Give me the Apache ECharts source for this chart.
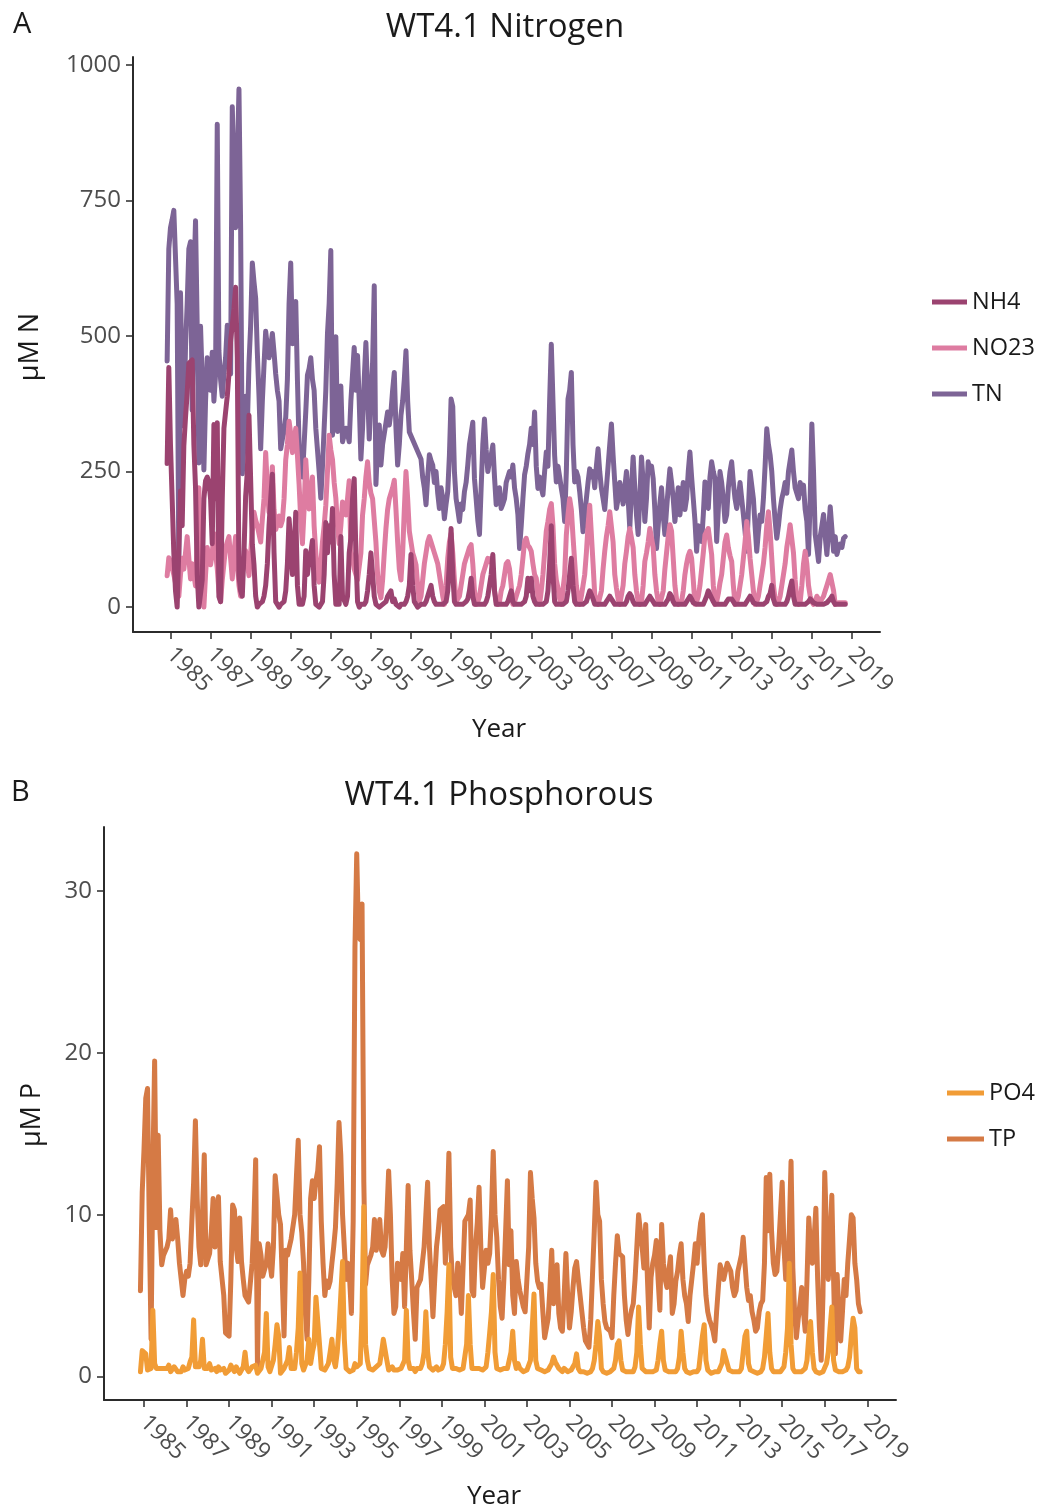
<!DOCTYPE html>
<html><head><meta charset="utf-8">
<script src="https://cdn.jsdelivr.net/npm/echarts@6/dist/echarts.min.js"></script>
<style>html,body{margin:0;padding:0;background:#fff}#c{width:1039px;height:1512px}</style>
</head><body><div id="c"></div>
<script>
// monthly series, first value = Nov 1984
const startYear = 1984, startMonth = 10;
const yearTicks = [1985,1987,1989,1991,1993,1995,1997,1999,2001,2003,2005,2007,2009,2011,2013,2015,2017,2019];
const nTicks = [0,250,500,750,1000];
const pTicks = [0,10,20,30];

const nh4 = [
265,442,
300,200,100,30,0,0,214,150,298,350,395,450,
453,456,300,220,60,0,0,50,200,233,240,231,
200,117,337,200,340,19,10,200,330,360,389,430,
492,520,550,590,460,58,30,20,100,204,250,354,
356,116,78,20,0,5,5,10,20,40,80,150,
200,245,100,10,5,0,5,5,10,30,80,163,
120,60,100,175,40,5,5,5,20,104,60,88,
100,123,40,5,5,0,5,10,60,156,100,150,
120,182,60,5,5,5,130,20,17,5,20,100,
127,200,237,100,10,0,5,5,5,10,30,60,
100,60,20,5,5,0,0,5,5,10,20,20,
30,10,15,5,5,0,5,5,5,10,20,40,
97,40,10,5,0,0,5,5,5,10,10,30,
40,20,10,5,5,5,5,5,5,10,30,80,
145,60,10,5,5,5,5,5,5,10,15,30,
53,20,5,5,5,5,5,5,5,10,20,40,
60,97,30,5,5,5,5,5,5,5,10,20,
30,10,5,5,5,5,5,5,10,20,53,30,
53,20,10,5,5,5,5,5,5,10,30,80,
150,60,10,5,5,5,5,5,5,10,30,60,
90,40,10,5,5,5,5,5,5,10,20,30,
23,15,5,5,5,5,5,5,5,10,15,20,
20,10,5,5,5,5,5,5,5,10,20,25,
20,10,5,5,5,5,5,5,5,8,15,20,
18,10,5,5,5,5,5,5,5,8,15,25,
20,10,5,5,5,5,5,5,5,8,15,20,
15,8,5,5,5,5,5,5,8,20,30,23,
20,10,5,5,5,5,5,5,5,10,15,15,
15,10,5,5,5,5,5,5,5,8,15,20,
15,8,5,5,5,5,5,5,5,10,20,25,
40,15,5,5,5,5,5,5,5,10,20,35,
48,20,5,5,5,5,5,5,5,8,10,15,
15,8,5,5,5,5,5,5,5,8,10,15,
20,10,5,5,5,5,5,5,5
];

const no23 = [
58,91,
85,84,60,45,39,20,60,90,70,100,130,90,
52,80,60,39,120,220,71,30,0,60,110,90,
78,100,136,100,71,30,10,50,80,110,120,130,
90,52,100,130,80,40,20,60,90,104,80,58,
100,140,175,160,150,149,120,162,200,285,220,175,
200,259,180,143,155,168,150,160,200,272,300,343,
320,285,300,330,280,227,160,117,180,272,220,181,
210,240,150,100,60,46,80,120,150,188,250,317,
290,272,230,201,150,117,150,194,188,170,200,233,
103,90,70,60,50,48,100,170,200,240,268,230,
210,200,200,120,60,30,17,50,100,145,180,200,
210,220,234,180,120,70,50,100,180,250,200,140,
120,100,90,78,40,11,20,50,80,100,120,130,
120,110,100,90,80,78,40,20,5,40,90,120,
136,100,50,10,10,20,40,60,80,90,100,110,
115,80,30,5,10,20,40,60,70,80,90,84,
90,70,30,10,5,10,30,40,60,80,84,70,
40,5,10,20,30,40,60,90,121,127,114,110,
103,80,60,53,20,5,30,60,100,140,158,180,
191,150,80,50,35,15,5,5,60,133,170,200,
180,130,84,40,15,5,20,40,60,100,150,188,
188,80,23,10,5,5,30,70,103,130,150,176,
176,120,60,35,15,5,5,40,80,103,130,145,
145,110,60,30,10,5,10,40,84,100,120,145,
145,110,60,30,10,5,5,30,70,100,130,152,
140,90,40,15,5,5,10,30,60,80,95,103,
90,50,5,10,20,40,70,100,133,133,145,120,
97,40,5,10,25,45,60,90,120,133,110,95,
84,40,5,10,20,40,60,90,120,158,130,90,
60,30,5,10,20,40,60,80,110,150,176,140,
90,40,15,5,10,20,40,60,80,110,130,152,
152,100,50,15,5,10,40,80,103,80,40,20,
10,5,10,20,15,10,15,20,30,40,50,60,
60,30,5,5,8,5,8,10,8
];

const tn = [
454,661,
700,715,732,730,560,71,580,420,334,480,560,661,
674,363,600,713,518,266,518,420,253,380,460,440,
400,470,380,430,891,473,420,389,430,460,520,460,
430,923,800,700,820,956,700,246,300,389,330,450,
520,635,600,570,470,389,292,380,447,509,480,460,
480,505,470,430,400,380,292,310,324,350,420,560,
635,486,520,564,420,298,260,240,300,360,428,440,
460,420,400,330,290,250,201,260,330,400,505,560,
658,317,400,499,324,360,408,305,305,330,320,305,
380,430,479,400,464,380,273,330,420,488,400,310,
380,450,593,226,300,336,262,300,320,340,360,336,
360,400,433,330,262,300,354,380,420,473,380,323,
null,null,null,null,null,null,273,240,220,189,240,281,
270,262,230,250,210,182,220,200,163,190,213,280,
384,370,250,200,180,158,190,180,213,230,262,300,
320,341,237,200,160,134,220,300,347,290,250,270,
280,299,240,189,200,220,182,190,200,230,240,250,
240,262,220,200,171,108,150,200,244,260,283,300,
330,300,360,260,219,240,220,207,250,286,260,380,
485,380,280,231,260,240,219,200,158,250,384,400,
433,300,231,250,240,213,180,139,170,200,230,255,
240,250,220,260,292,250,219,200,180,220,260,300,
338,280,230,182,200,230,213,190,220,250,200,145,
220,277,220,170,134,200,277,230,158,200,268,250,
260,237,180,108,150,190,220,170,134,180,220,255,
230,200,158,190,220,170,200,230,180,200,250,286,
240,200,160,103,150,140,121,170,231,200,182,240,
268,250,237,121,180,250,230,200,158,170,220,250,
268,230,200,182,200,230,200,171,140,103,180,250,
225,200,150,103,140,170,158,200,260,329,300,281,
250,200,160,127,150,180,200,213,230,210,250,270,
290,250,220,210,200,230,210,225,180,158,97,200,
338,250,134,110,84,130,150,171,130,97,140,185,
185,103,130,97,110,116,110,127,130
];

const po4 = [
0.3,1.6,
1.5,1.4,0.4,0.3,0.5,4.1,0.8,0.5,0.6,0.5,0.4,0.5,
0.4,0.5,0.7,0.3,0.4,0.6,0.5,0.3,0.4,0.3,0.6,0.4,
0.3,0.5,0.9,1.2,3.5,0.6,0.5,0.6,1.0,2.3,0.5,0.4,
0.5,0.8,0.4,0.3,0.5,0.3,0.6,0.4,0.3,0.5,0.2,0.3,
0.4,0.7,0.5,0.3,0.6,0.4,0.2,0.3,0.6,1.5,0.5,0.3,
0.4,0.6,0.5,0.7,0.2,0.3,0.5,1.0,1.5,3.9,0.6,0.3,
0.4,1.0,2.0,3.2,2.5,0.2,0.3,0.5,0.4,1.0,1.8,0.5,
0.6,0.5,1.5,3.0,6.4,0.8,0.4,0.5,1.0,2.3,0.8,1.5,
2.0,4.9,4.8,2.0,0.5,0.6,0.4,0.5,0.8,1.5,2.3,1.0,
0.6,1.5,3.0,5.0,7.1,2.3,0.5,0.4,0.3,0.2,0.4,0.8,
0.6,0.7,0.8,4.0,10.5,2.0,1.0,0.5,0.6,0.4,0.5,0.6,
0.5,0.8,1.5,2.3,2.4,1.0,0.4,0.5,0.6,0.4,0.5,0.4,
0.4,0.5,0.6,1.0,4.1,1.0,0.5,0.4,0.5,0.3,0.5,0.4,
0.5,0.8,1.5,4.0,1.5,0.6,0.5,0.4,0.5,0.6,0.4,0.5,
0.5,0.8,2.0,4.0,6.9,1.2,0.5,0.4,0.5,0.4,0.4,0.5,
0.5,0.6,2.0,5.0,2.0,0.5,0.4,0.5,0.4,0.5,0.6,0.4,
0.5,0.6,1.5,2.7,4.0,6.3,1.5,0.5,0.4,0.4,0.3,0.5,
0.4,0.5,1.0,1.5,2.8,1.0,0.5,0.8,0.5,0.4,0.3,0.4,
0.4,0.5,1.0,3.0,5.1,1.0,0.5,0.6,0.4,0.3,0.3,0.4,
0.4,0.6,0.8,1.2,0.9,1.0,0.5,0.4,0.3,0.5,0.4,0.3,
0.3,0.4,0.6,0.8,1.4,0.5,0.3,0.4,0.3,0.3,0.2,0.3,
0.3,0.5,1.0,2.0,3.4,2.5,0.5,0.3,0.3,0.2,0.2,0.3,
0.3,0.5,1.0,2.0,2.2,1.0,0.4,0.3,0.3,0.2,0.3,0.3,
0.3,0.6,1.5,4.3,2.0,0.5,0.4,0.3,0.3,0.3,0.2,0.3,
0.3,0.4,1.0,2.0,2.8,1.0,0.4,0.3,0.3,0.2,0.3,0.3,
0.3,0.5,1.2,2.8,1.5,0.5,0.3,0.3,0.2,0.3,0.3,0.3,
0.3,0.5,1.5,2.5,3.2,1.0,0.4,0.3,0.2,0.3,0.3,0.2,
0.3,0.4,0.8,1.6,1.2,0.8,0.4,0.3,0.3,0.2,0.3,0.3,
0.3,0.5,1.5,2.5,2.8,0.8,0.4,0.3,0.3,0.3,0.2,0.3,
0.3,0.5,1.2,2.5,3.9,1.5,0.5,0.3,0.3,0.3,0.3,0.3,
0.4,0.6,1.5,3.0,7.0,2.0,0.5,0.3,0.3,0.3,0.3,0.3,
0.3,0.5,1.0,2.5,3.4,1.5,0.5,0.3,0.3,0.2,0.3,0.3,
0.4,0.8,1.5,3.0,4.3,1.0,0.4,0.3,0.3,0.3,0.3,0.4,
0.4,0.6,1.2,2.5,3.6,3.0,0.5,0.3,0.3
];

const tp = [
5.3,11.4,
14,17.2,17.8,9.2,2.3,12.8,19.5,9.2,14.9,9.0,6.9,7.5,
7.5,8.0,8.5,10.3,8.5,9.0,9.7,8.5,7.0,6.0,5.0,6.0,
6.5,6.2,7.0,9.6,12.0,15.8,11.0,8.0,6.9,10.0,13.7,6.9,
7.0,7.6,9.0,11.0,8.0,9.5,11.1,7.1,7.0,5.0,2.7,2.6,
2.5,6.0,10.6,10.3,8.0,7.1,9.8,7.1,6.0,5.0,4.8,4.6,
4.6,7.0,9.6,13.4,0.7,8.2,7.5,6.2,6.2,7.0,8.2,7.0,
6.2,8.0,12.4,12.5,10.0,9.4,6.0,2.5,7.8,7.5,8.0,8.5,
8.5,10.0,12.4,14.6,10.0,8.9,7.0,4.0,2.3,6.0,11.0,12.1,
11.0,12.1,12.7,14.2,9.6,7.0,5.0,5.9,5.5,5.9,7.0,8.0,
9.2,12.0,15.7,13.7,10.0,8.0,6.0,7.0,6.0,3.9,9.6,26.5,
32.3,27.2,27.0,29.2,12.0,5.7,6.9,7.0,7.5,8.0,9.7,7.8,
8.5,9.7,7.8,7.5,8.0,10.0,12.7,10.0,6.0,3.9,4.3,7.0,
7.0,6.0,7.6,4.3,8.0,11.8,7.8,6.0,4.0,2.3,5.5,5.5,
6.0,7.0,8.0,10.0,12.0,8.0,6.0,3.7,6.0,8.0,9.0,10.3,
10.3,10.5,7.0,10.0,13.8,8.0,6.0,5.5,5.0,7.0,6.0,3.9,
3.9,9.6,9.6,10.0,10.9,5.3,5.0,8.0,9.5,11.7,8.0,5.5,
5.5,7.8,7.0,7.6,10.0,13.9,10.0,8.6,6.0,4.3,3.6,6.0,
9.0,12.1,6.9,9.0,5.0,3.9,7.1,6.0,5.3,4.8,4.3,4.0,
3.9,8.0,12.6,11.0,9.8,7.0,5.9,5.5,5.7,4.0,2.4,3.0,
3.6,5.5,7.8,4.5,5.5,6.9,3.9,3.0,2.8,5.0,7.6,5.0,
3.0,4.0,5.5,6.7,7.1,6.0,5.0,4.0,3.0,2.2,2.0,1.8,
3.5,6.3,9.0,12.0,10.0,9.6,6.0,4.5,3.4,3.0,3.0,2.8,
2.4,5.0,7.0,8.7,7.6,7.5,7.4,5.0,3.5,2.6,3.5,4.1,
4.5,6.0,8.0,10.0,10.1,8.0,6.7,9.4,6.0,3.0,6.1,7.0,
7.5,8.4,6.0,4.1,9.4,7.0,6.0,5.5,6.5,7.4,3.9,4.5,
5.9,6.5,7.5,8.2,6.0,5.0,4.5,3.4,5.0,6.0,7.0,8.2,
7.0,8.5,9.5,10.0,7.0,5.0,4.0,3.5,3.2,2.8,2.2,4.0,
5.5,6.9,6.5,6.0,6.5,7.0,7.1,6.5,5.5,5.0,5.3,6.5,
7.0,7.5,8.6,7.0,5.5,4.7,5.0,4.0,3.5,2.8,3.0,4.0,
4.5,4.7,7.0,12.3,9.0,12.5,9.0,7.0,6.3,6.5,8.0,10.0,
12.0,8.0,6.0,6.5,9.0,13.3,6.7,4.0,2.4,3.5,4.5,5.5,
4.0,2.8,6.0,9.8,8.0,7.0,8.5,10.4,6.0,3.0,1.0,5.0,
12.6,9.0,6.0,8.0,11.2,6.0,1.4,6.3,4.0,2.2,4.0,6.0,
5.0,7.0,8.5,10.0,9.8,7.0,6.0,4.5,4.0
];

const FONT = '"Open Sans", "Noto Sans", sans-serif';
const colors = {NH4:'#9B4370', NO23:'#DE7CA1', TN:'#7D6496', PO4:'#F19C36', TP:'#D57A45'};

function pairs(arr){ return arr.map((v,i)=>[startYear + (startMonth+i)/12, v]); }

function xAx(gi, min, max){
  return {
    type:'value', gridIndex:gi, min:min, max:max,
    axisLine:{show:true, onZero:false, lineStyle:{color:'#2b2b2b', width:2}},
    axisTick:{show:true, length:7, customValues:yearTicks, lineStyle:{color:'#2b2b2b', width:1.5}},
    axisLabel:{customValues:yearTicks, rotate:-45, margin:19, fontSize:23, color:'#4d4d4d', fontFamily:FONT, formatter:v=>String(v)},
    splitLine:{show:false}
  };
}
function yAx(gi, min, max, ticks){
  return {
    type:'value', gridIndex:gi, min:min, max:max,
    axisLine:{show:true, onZero:false, lineStyle:{color:'#2b2b2b', width:2}},
    axisTick:{show:true, length:7, customValues:ticks, lineStyle:{color:'#2b2b2b', width:1.5}},
    axisLabel:{customValues:ticks, margin:12, fontSize:24, color:'#4d4d4d', fontFamily:FONT, formatter:v=>String(v)},
    splitLine:{show:false}
  };
}
function line(name, data, xi, yi, extra){
  return Object.assign({
    name:name, type:'line', xAxisIndex:xi, yAxisIndex:yi, data:pairs(data),
    showSymbol:false, symbol:'none',
    lineStyle:{width:5, color:colors[name], join:'round', cap:'round'},
    itemStyle:{color:colors[name]}, emphasis:{disabled:true}, silent:true
  }, extra||{});
}

const chart = echarts.init(document.getElementById('c'));
chart.setOption({
  animation:false,
  backgroundColor:'#fff',
  title:[
    {text:'WT4.1 Nitrogen', left:500, top:6, textAlign:'center', textStyle:{fontSize:33, fontWeight:'normal', color:'#1a1a1a', fontFamily:FONT}},
    {text:'WT4.1 Phosphorous', left:494, top:774, textAlign:'center', textStyle:{fontSize:33, fontWeight:'normal', color:'#1a1a1a', fontFamily:FONT}},
    {text:'A', left:8, top:5, textStyle:{fontSize:29, fontWeight:'normal', color:'#1a1a1a', fontFamily:FONT}},
    {text:'B', left:6, top:773, textStyle:{fontSize:29, fontWeight:'normal', color:'#1a1a1a', fontFamily:FONT}}
  ],
  grid:[
    {left:133, top:57, width:747, height:575},
    {left:104, top:827, width:792, height:573}
  ],
  xAxis:[xAx(0,1983.13,2020.4), xAx(1,1983.12,2020.35)],
  yAxis:[yAx(0,-46,1015,nTicks), yAx(1,-1.45,33.95,pTicks)],
  legend:[
    {data:['NH4','NO23','TN'], orient:'vertical', left:932, top:289, icon:'rect', itemWidth:35, itemHeight:5, itemGap:20, itemTextGap:5, padding:0,
     textStyle:{fontSize:23.5, color:'#1a1a1a', fontFamily:FONT, lineHeight:26}, selectedMode:false},
    {data:['PO4','TP'], orient:'vertical', left:947, top:1080, icon:'rect', itemWidth:37, itemHeight:5, itemGap:20, itemTextGap:4, padding:0,
     textStyle:{fontSize:23.5, color:'#1a1a1a', fontFamily:FONT, lineHeight:26}, selectedMode:false}
  ],
  graphic:[
    {type:'text', x:30, y:347, rotation:Math.PI/2, style:{text:'µM N', fontSize:27, fontFamily:FONT, fill:'#1a1a1a', align:'center', verticalAlign:'middle'}},
    {type:'text', x:32, y:1115, rotation:Math.PI/2, style:{text:'µM P', fontSize:27, fontFamily:FONT, fill:'#1a1a1a', align:'center', verticalAlign:'middle'}},
    {type:'text', x:499, y:730, style:{text:'Year', fontSize:26, fontFamily:FONT, fill:'#1a1a1a', align:'center', verticalAlign:'middle'}},
    {type:'text', x:494, y:1497, style:{text:'Year', fontSize:26, fontFamily:FONT, fill:'#1a1a1a', align:'center', verticalAlign:'middle'}}
  ],
  series:[
    line('TN', tn, 0, 0, {connectNulls:true}),
    line('NO23', no23, 0, 0),
    line('NH4', nh4, 0, 0),
    line('TP', tp, 1, 1),
    line('PO4', po4, 1, 1)
  ]
});
</script></body></html>
